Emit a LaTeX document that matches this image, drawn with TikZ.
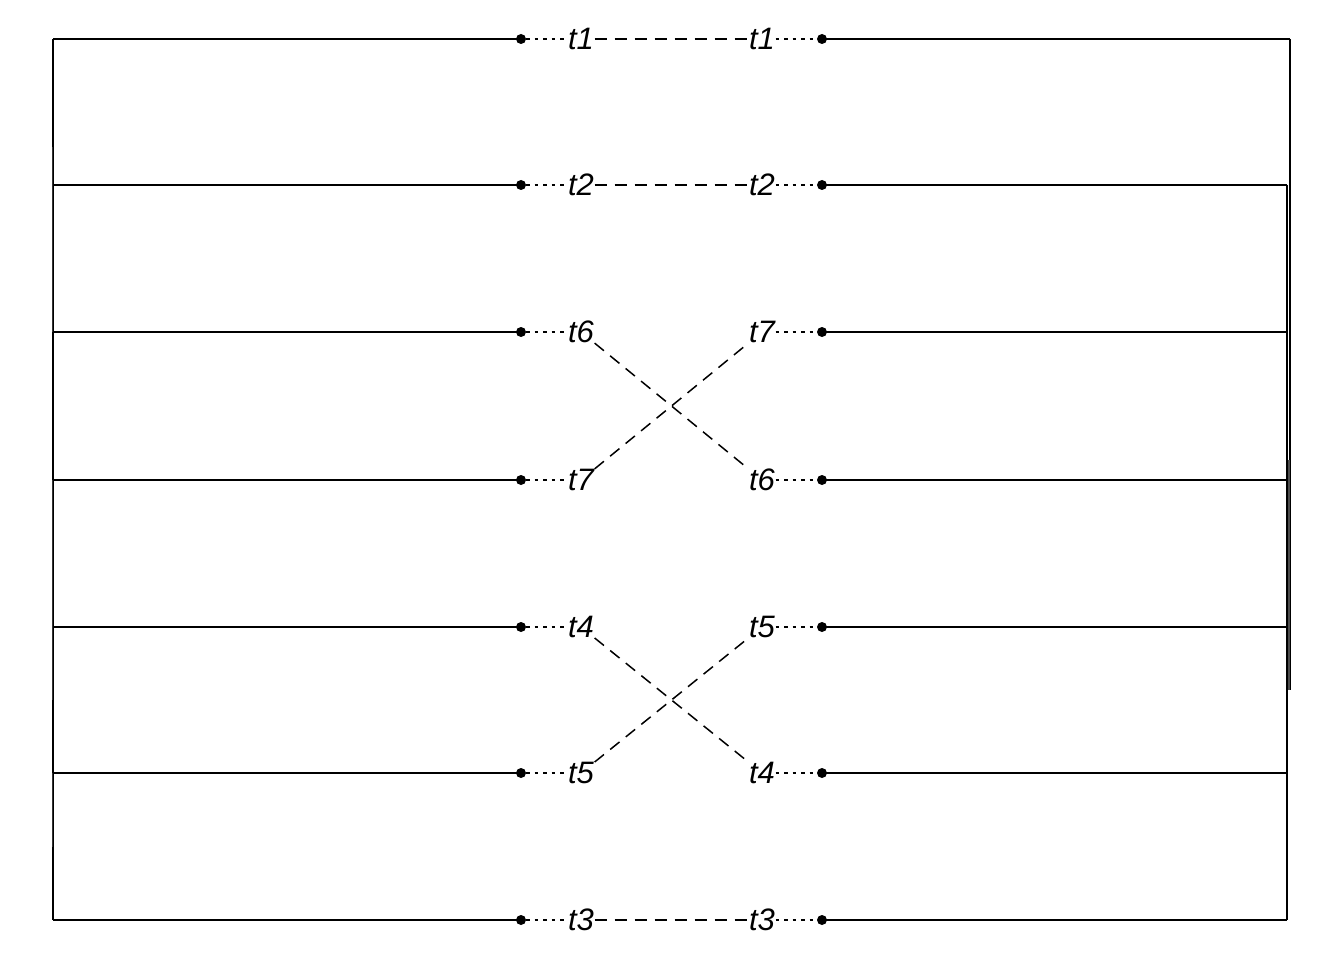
\documentclass[tikz,border=0pt]{standalone}
\usepackage{fontspec}
\setmainfont{Liberation Sans}
\begin{document}
\begin{tikzpicture}[x=1pt,y=-1pt,
  wire/.style={line width=1.9pt},
  dotline/.style={line width=1.5pt,dash pattern=on 3.5pt off 5pt},
  dashline/.style={line width=1.5pt,dash pattern=on 12pt off 8pt},
  pin/.style={circle,fill=black,inner sep=0pt,minimum size=10pt},
  lbl/.style={inner sep=0.5pt,font=\fontsize{31}{32}\selectfont\itshape}]
\useasboundingbox (0,0) rectangle (1344,960);
% rails
\draw[wire] (53,39) -- (53,920);
\draw[wire,black!80] (52.5,147) -- (52.5,332);
\draw[wire,black!80] (52.5,480) -- (52.5,700);
\draw[wire,black!80] (52.5,773) -- (52.5,847);
\draw[wire] (1290,39) -- (1290,690);
\draw[wire] (1287,185) -- (1287,920);
\draw[wire,black!70] (1289,460) -- (1289,690);
% rows
\foreach \i/\y/\a/\b in {1/39/t1/t1,2/185/t2/t2,3/332/t6/t7,4/480/t7/t6,5/627/t4/t5,6/773/t5/t4,7/920/t3/t3}{
  \coordinate (L\i) at (53,\y);
  \node[pin] (p\i) at (521,\y) {};
  \node[lbl] (a\i) at (581,\y) {\a};
  \node[lbl] (b\i) at (762,\y) {\b};
  \node[pin] (q\i) at (822,\y) {};
  \draw[wire] (L\i) -- (p\i.center);
  \draw[dotline] (p\i) -- (a\i);
  \draw[dotline] (b\i) -- (q\i);
}
\coordinate (R1) at (1290,39);
\foreach \i/\y in {2/185,3/332,4/480,5/627,6/773,7/920}{\coordinate (R\i) at (1287,\y);}
\foreach \i in {1,...,7}{\draw[wire] (q\i.center) -- (R\i);}
% dashed links
\draw[dashline] (a1) -- (b1);
\draw[dashline] (a2) -- (b2);
\draw[dashline] (a7) -- (b7);
\draw[dashline] (a3) -- (b4);
\draw[dashline] (a4) -- (b3);
\draw[dashline] (a5) -- (b6);
\draw[dashline] (a6) -- (b5);
\end{tikzpicture}
\end{document}
